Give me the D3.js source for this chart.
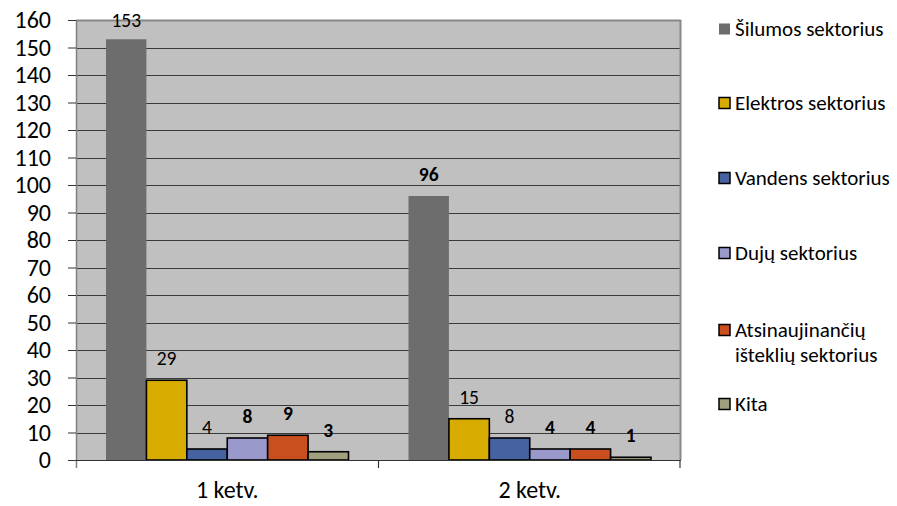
<!DOCTYPE html>
<html><head><meta charset="utf-8">
<script src="https://cdn.jsdelivr.net/npm/d3@7"></script>
<style>body{margin:0;background:#fff}svg{display:block}</style>
</head><body>
<svg id="c" width="897" height="506"></svg>
<script>
const categories = ["1 ketv.", "2 ketv."];
const seriesNames = ["Šilumos sektorius", "Elektros sektorius", "Vandens sektorius", "Dujų sektorius", "Atsinaujinančių išteklių sektorius", "Kita"];
const legendLines = [["Šilumos sektorius"], ["Elektros sektorius"], ["Vandens sektorius"], ["Dujų sektorius"], ["Atsinaujinančių", "išteklių sektorius"], ["Kita"]];
const q1Values = [153, 29, 4, 8, 9, 3];
const q2Values = [96, 15, 8, 4, 4, 1];
const q1Bold = [false, false, false, true, true, true];
const q2Bold = [true, false, false, true, true, true];
const colors = ["#6d6d6d", "#d8ab00", "#4762a0", "#9a99cc", "#c94f1f", "#a0a07f"];
const yTicks = [0, 10, 20, 30, 40, 50, 60, 70, 80, 90, 100, 110, 120, 130, 140, 150, 160];

const valuesByCat = [q1Values, q2Values];
const boldByCat = [q1Bold, q2Bold];
const svg = d3.select("#c");
const font = "Carlito, Calibri, 'Open Sans', sans-serif";
const L = 76, R = 681, T = 20, B = 460;

const y = d3.scaleLinear().domain([0, 160]).range([B, T]);
const x0 = d3.scaleBand().domain(categories).range([L, R]).paddingInner(0).paddingOuter(0);
const groupPad = x0.bandwidth() * 0.0992;
const x1 = d3.scaleBand().domain(d3.range(seriesNames.length)).range([groupPad, x0.bandwidth() - groupPad]).padding(0);

// plot background
svg.append("rect").attr("x", L).attr("y", T).attr("width", R - L).attr("height", B - T).attr("fill", "#c0c0c0");

// gridlines
svg.append("g").selectAll("line").data(yTicks.filter(d => d > 0 && d < 160)).join("line")
  .attr("x1", L).attr("x2", R).attr("y1", d => Math.round(y(d)) + 0.5).attr("y2", d => Math.round(y(d)) + 0.5)
  .attr("stroke", "#3a3a3a").attr("stroke-width", 1.2);

// border top & right
svg.append("line").attr("x1", L).attr("x2", R).attr("y1", T + 0.5).attr("y2", T + 0.5).attr("stroke", "#888").attr("stroke-width", 2);
svg.append("line").attr("x1", R - 0.5).attr("x2", R - 0.5).attr("y1", T).attr("y2", B).attr("stroke", "#888").attr("stroke-width", 2);

// bars
const gCat = svg.append("g").selectAll("g").data(categories).join("g")
  .attr("transform", d => `translate(${x0(d)},0)`);
gCat.each(function(cat, ci) {
  const g = d3.select(this);
  const vals = valuesByCat[ci];
  g.selectAll("rect").data(vals).join("rect")
    .attr("x", (d, i) => x1(i)).attr("width", x1.bandwidth())
    .attr("y", d => y(d)).attr("height", d => B - y(d))
    .attr("fill", (d, i) => colors[i])
    .attr("stroke", (d, i) => i === 0 ? "none" : "#000")
    .attr("stroke-width", 1.6);
  g.selectAll("text").data(vals).join("text")
    .attr("x", (d, i) => x1(i) + x1.bandwidth() / 2)
    .attr("y", d => Math.max(y(d) - 15, T + 7))
    .attr("text-anchor", "middle")
    .attr("font-family", font).attr("font-size", 19.5)
    .attr("font-weight", (d, i) => boldByCat[ci][i] ? "bold" : "normal")
    .attr("fill", "#000")
    .text(d => d);
});

// y axis
const yAxis = d3.axisLeft(y).tickValues(yTicks).tickSize(8).tickPadding(17);
const ga = svg.append("g").attr("transform", `translate(${L},0)`).call(yAxis);
ga.select(".domain").attr("stroke", "#808080").attr("stroke-width", 1.5).attr("d", `M0.5,${T}V${B + 8}`);
ga.selectAll(".tick line").attr("stroke", "#333");
ga.selectAll(".tick text").attr("font-family", font).attr("font-size", 24).attr("fill", "#000");

// x axis
const xAxis = d3.axisBottom(x0).tickSize(0).tickPadding(0);
const gx = svg.append("g").attr("transform", `translate(0,${B})`).call(xAxis);
gx.select(".domain").attr("stroke", "#333").attr("stroke-width", 1.2).attr("d", `M${L},0.5H${R}`);
gx.selectAll(".tick text").attr("font-family", font).attr("font-size", 24).attr("fill", "#000").attr("y", 38).attr("dy", 0);
// category boundary ticks
svg.append("g").selectAll("line").data(categories.slice(1).map(c => x0(c)).concat([R - 1])).join("line")
  .attr("x1", d => d).attr("x2", d => d)
  .attr("y1", B).attr("y2", B + 8)
  .attr("stroke", "#333").attr("stroke-width", 1.2);

// legend
const legendY = [29, 103, 178, 253, 330, 404];
const lg = svg.append("g").selectAll("g").data(seriesNames).join("g")
  .attr("transform", (d, i) => `translate(719,${legendY[i]})`);
lg.append("rect").attr("x", 0).attr("y", -5.5).attr("width", 11).attr("height", 11)
  .attr("fill", (d, i) => colors[i])
  .attr("stroke", (d, i) => i === 0 ? "none" : "#000").attr("stroke-width", 1.5);
lg.each(function(d, i) {
  const t = d3.select(this).append("text").attr("font-family", font).attr("font-size", 21).attr("fill", "#000");
  legendLines[i].forEach((ln, k) => {
    t.append("tspan").attr("x", 16).attr("y", k * 25).attr("dy", "0.35em").text(ln);
  });
});
</script>
</body></html>
